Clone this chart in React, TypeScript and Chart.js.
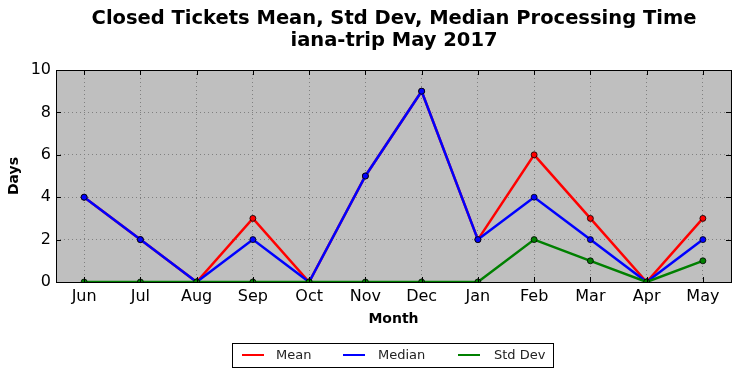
import React, { useEffect, useRef } from "react";
import { Chart, registerables } from "chart.js";

Chart.register(...registerables);

const months = ["Jun", "Jul", "Aug", "Sep", "Oct", "Nov", "Dec", "Jan", "Feb", "Mar", "Apr", "May"];
const meanValues = [4, 2, 0, 3, 0, 5, 9, 2, 6, 3, 0, 3];
const medianValues = [4, 2, 0, 2, 0, 5, 9, 2, 4, 2, 0, 2];
const stdDevValues = [0, 0, 0, 0, 0, 0, 0, 0, 2, 1, 0, 1];
const titleLines = ["Closed Tickets Mean, Std Dev, Median Processing Time", "iana-trip May 2017"];
const legendLabels = ["Mean", "Median", "Std Dev"];
const seriesColors = ["#ff0000", "#0000ff", "#008000"];

const FONT = "'DejaVu Sans', sans-serif";

const framePlugin = {
  id: "frame",
  beforeDraw(chart: any) {
    const { ctx, chartArea: a } = chart;
    ctx.save();
    ctx.fillStyle = "#bfbfbf";
    ctx.fillRect(a.left, a.top, a.right - a.left, a.bottom - a.top);
    ctx.restore();
  },
  afterDraw(chart: any) {
    const { ctx, chartArea: a, scales } = chart;
    ctx.save();
    ctx.fillStyle = "#000";
    ctx.font = `bold 19.5px ${FONT}`;
    ctx.textAlign = "center";
    ctx.textBaseline = "middle";
    ctx.fillText(titleLines[0], 394, 19);
    ctx.fillText(titleLines[1], 394, 41);
    ctx.strokeStyle = "#000";
    ctx.lineWidth = 1;
    const tl = 5;
    const xs = scales.x;
    xs.ticks.forEach((_: any, i: number) => {
      const px = Math.round(xs.getPixelForTick(i)) + 0.5;
      ctx.beginPath();
      ctx.moveTo(px, a.bottom);
      ctx.lineTo(px, a.bottom - tl);
      ctx.moveTo(px, a.top);
      ctx.lineTo(px, a.top + tl);
      ctx.stroke();
    });
    const ys = scales.y;
    ys.ticks.forEach((_: any, i: number) => {
      const py = Math.round(ys.getPixelForTick(i)) + 0.5;
      ctx.beginPath();
      ctx.moveTo(a.left, py);
      ctx.lineTo(a.left + tl, py);
      ctx.moveTo(a.right, py);
      ctx.lineTo(a.right - tl, py);
      ctx.stroke();
    });
    ctx.strokeRect(Math.round(a.left) + 0.5, Math.round(a.top) + 0.5, Math.round(a.right - a.left), Math.round(a.bottom - a.top));
    ctx.restore();
  },
};

export default function App() {
  const ref = useRef<HTMLCanvasElement | null>(null);
  useEffect(() => {
    document.body.style.margin = "0";
    const datasets = [meanValues, medianValues, stdDevValues].map((d, i) => ({
      label: legendLabels[i],
      data: d,
      order: 3 - i,
      borderColor: seriesColors[i],
      backgroundColor: seriesColors[i],
      borderWidth: 2.5,
      pointRadius: 3,
      pointBorderColor: "#000",
      pointBorderWidth: 0.8,
      pointBackgroundColor: seriesColors[i],
      tension: 0,
    }));
    const chart = new Chart(ref.current!, {
      type: "line",
      data: { labels: months, datasets },
      plugins: [framePlugin],
      options: {
        animation: false,
        responsive: false,
        layout: { padding: { top: 70, right: 9, left: 6, bottom: 50 } },
        plugins: { legend: { display: false }, title: { display: false }, tooltip: { enabled: false } },
        scales: {
          x: {
            offset: true,
            grid: { color: "#808080", lineWidth: 1, drawTicks: false, tickLength: 0, offset: false },
            border: { display: false, dash: [1, 3] } as any,
            ticks: { color: "#000", font: { family: FONT, size: 16 }, padding: 5, maxRotation: 0, autoSkip: false },
            title: { display: true, text: "Month", color: "#000", font: { family: FONT, size: 14, weight: "bold" }, padding: { top: 0, bottom: 0 } },
            afterFit(scale: any) { scale.height = 46; },
          },
          y: {
            min: 0,
            max: 10,
            ticks: { stepSize: 2, color: "#000", font: { family: FONT, size: 16 }, padding: 5 },
            grid: { color: "#808080", lineWidth: 1, drawTicks: false, tickLength: 0 },
            border: { display: false, dash: [1, 3] } as any,
            title: { display: true, text: "Days", color: "#000", font: { family: FONT, size: 14, weight: "bold" }, padding: { bottom: 0, top: 0 } },
            afterFit(scale: any) { scale.width = 50; },
          },
        },
      },
    });
    return () => chart.destroy();
  }, []);

  const legendItem = (i: number, lineLeft: number, textLeft: number) => (
    <React.Fragment key={i}>
      <div style={{ position: "absolute", left: lineLeft, top: 354, width: 22, height: 0, borderTop: `2.5px solid ${seriesColors[i]}` }} />
      <div style={{ position: "absolute", left: textLeft, top: 346, fontFamily: FONT, fontSize: 13, lineHeight: "18px", color: "#222" }}>{legendLabels[i]}</div>
    </React.Fragment>
  );

  return (
    <div style={{ position: "relative", width: 740, height: 378 }}>
      <canvas ref={ref} width={740} height={378} style={{ display: "block" }} />
      <div style={{ position: "absolute", left: 232, top: 343, width: 320, height: 23, border: "1px solid #000" }} />
      {legendItem(0, 242, 276)}
      {legendItem(1, 343, 378)}
      {legendItem(2, 458, 494)}
    </div>
  );
}
